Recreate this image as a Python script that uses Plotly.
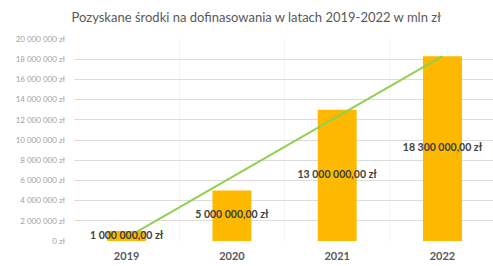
import plotly.graph_objects as go

years = ["2019", "2020", "2021", "2022"]
values = [1000000, 5000000, 13000000, 18300000]
trend = [340000, 6330000, 12320000, 18310000]
labels = ["1 000 000,00 zł", "5 000 000,00 zł", "13 000 000,00 zł", "18 300 000,00 zł"]
y_ticks = list(range(0, 20000001, 2000000))
y_tick_text = ["0 zł"] + [f"{v:,}".replace(",", " ") + " zł" for v in y_ticks[1:]]

fig = go.Figure()
fig.add_trace(go.Bar(x=years, y=values, width=0.37, marker=dict(color="#FDB900", line=dict(width=0)),
                     hoverinfo="skip"))
fig.add_trace(go.Scatter(x=years, y=trend, mode="lines", line=dict(color="#92D050", width=2),
                         hoverinfo="skip"))
fig.add_trace(go.Scatter(x=years, y=[v / 2 for v in values], mode="text", text=labels,
                         textposition="middle center", cliponaxis=False,
                         textfont=dict(family="Lato", size=10.5, color="#404040", weight="bold"),
                         hoverinfo="skip"))

fig.update_layout(
    width=493, height=266,
    margin=dict(l=74, r=0, t=39, b=25, autoexpand=False),
    paper_bgcolor="white", plot_bgcolor="white",
    showlegend=False,
    title=dict(text="Pozyskane środki na dofinasowania w latach 2019-2022 w mln zł",
               x=0.52, xanchor="center", y=0.935, yanchor="middle",
               font=dict(family="Lato", size=13, color="#595959")),
    xaxis=dict(type="category", range=[-0.5, 3.48], showgrid=True, gridcolor="#F3F3F3",
               tickson="boundaries", ticks="", showline=False, zeroline=False,
               automargin=False, ticklabelstandoff=7,
               tickfont=dict(family="Lato", size=11, color="#595959", weight="bold")),
    yaxis=dict(range=[0, 20000000], tickvals=y_ticks, ticktext=y_tick_text,
               showgrid=True, gridcolor="#DCDCDC", gridwidth=1, zeroline=False,
               showline=False, ticks="", ticklabelstandoff=8, automargin=False,
               tickfont=dict(family="Lato", size=8, color="#A0A0A0")),
)

fig.write_html("out.html", config={"displayModeBar": False, "staticPlot": True})
with open("out.html", encoding="utf-8") as f:
    html = f.read()
html = html.replace("<head>", "<head><style>html,body{margin:0;padding:0;overflow:hidden;}</style>", 1)
with open("out.html", "w", encoding="utf-8") as f:
    f.write(html)
